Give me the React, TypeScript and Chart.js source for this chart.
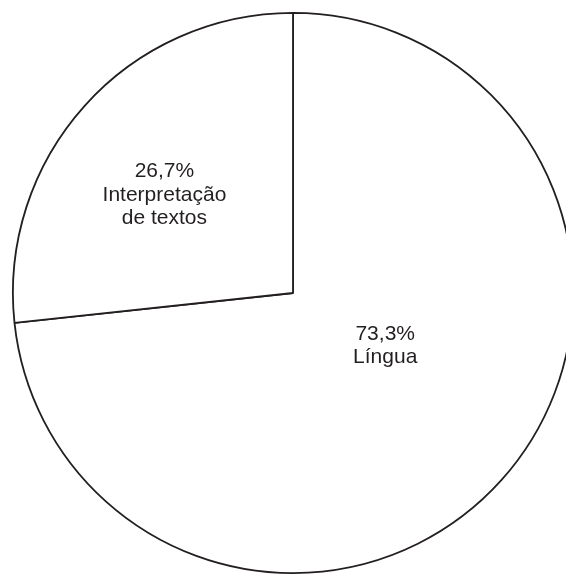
import React, { useEffect, useRef } from "react";
import { Chart, registerables } from "chart.js";

Chart.register(...registerables);

const categories: string[] = ["Língua", "Interpretação de textos"];
const values: number[] = [73.3, 26.7];
const valueLabels: string[] = ["73,3%", "26,7%"];
const labelLines: string[][] = [["Língua"], ["Interpretação", "de textos"]];

// label placement (polar, relative to the pie centre): angle in degrees, fraction of radius
const labelPlacement = [
  { angle: 29.7, frac: 0.379 },
  { angle: 217.3, frac: 0.577 },
];

const labelPlugin = {
  id: "pieLabels",
  afterDraw(chart: any) {
    const meta = chart.getDatasetMeta(0);
    const ctx = chart.ctx;
    ctx.save();
    ctx.fillStyle = "#231f20";
    ctx.font = '21px "Liberation Sans", Arial, sans-serif';
    ctx.textAlign = "center";
    ctx.textBaseline = "middle";
    meta.data.forEach((arc: any, i: number) => {
      const { x, y, outerRadius } = arc.getProps(["x", "y", "outerRadius"], true);
      const p = labelPlacement[i];
      const a = (p.angle * Math.PI) / 180;
      const cx = x + Math.cos(a) * outerRadius * p.frac;
      const cy = y + Math.sin(a) * outerRadius * p.frac;
      const lines = [valueLabels[i], ...labelLines[i]];
      const lh = 23.5;
      const top = cy - ((lines.length - 1) * lh) / 2;
      lines.forEach((t, j) => ctx.fillText(t, cx, top + j * lh));
    });
    ctx.restore();
  },
};

export default function App() {
  const ref = useRef<HTMLCanvasElement>(null);
  useEffect(() => {
    if (!ref.current) return;
    const chart = new Chart(ref.current, {
      type: "pie",
      data: {
        labels: categories,
        datasets: [
          {
            data: values,
            backgroundColor: "#ffffff",
            borderColor: "#231f20",
            borderWidth: 1.8,
          },
        ],
      },
      options: {
        responsive: false,
        animation: false,
        layout: { padding: 12 },
        plugins: {
          legend: { display: false },
          tooltip: { enabled: false },
        },
      },
      plugins: [labelPlugin],
    });
    return () => chart.destroy();
  }, []);
  return (
    <div
      style={{
        position: "fixed",
        left: 0,
        top: 0,
        width: 566,
        height: 576,
        overflow: "hidden",
        background: "#ffffff",
      }}
    >
      <canvas ref={ref} width={586} height={586} style={{ display: "block" }} />
    </div>
  );
}
